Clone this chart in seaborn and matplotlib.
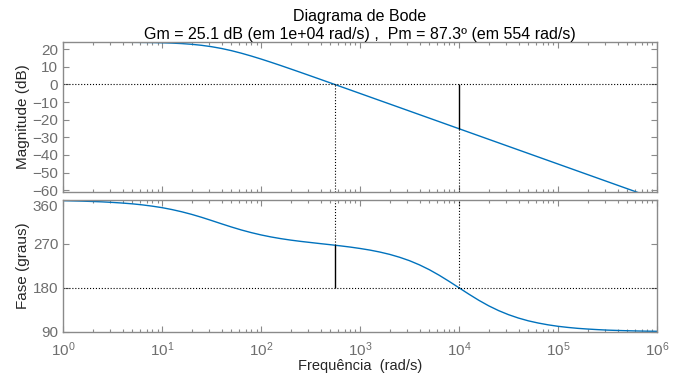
import pandas as pd
import seaborn as sns
import matplotlib.pyplot as plt
from matplotlib.ticker import LogLocator, NullFormatter

freq = [1, 1.259, 1.585, 1.995, 2.512, 3.162, 3.981, 5.012, 6.31, 7.943,
        10, 12.59, 15.85, 19.95, 25.12, 31.62, 39.81, 50.12, 63.1, 79.43,
        100, 125.9, 158.5, 199.5, 251.2, 316.2, 398.1, 501.2, 631, 794.3,
        1000, 1259, 1585, 1995, 2512, 3162, 3981, 5012, 6310, 7943,
        1e4, 12590, 15850, 19950, 25120, 31620, 39810, 50120, 63100, 79430,
        1e5, 125900, 158500, 199500, 251200, 316200, 398100, 501200, 631000, 794300, 1e6]
# Magnitude (dB)
mag_db = [23.9, 23.89, 23.89, 23.89, 23.88, 23.87, 23.85, 23.81, 23.76, 23.69,
          23.56, 23.38, 23.10, 22.70, 22.12, 21.34, 20.34, 19.11, 17.67, 16.07,
          14.35, 12.53, 10.65, 8.72, 6.77, 4.80, 2.82, 0.83, -1.16, -3.15,
          -5.15, -7.15, -9.15, -11.14, -13.14, -15.14, -17.14, -19.14, -21.14, -23.14,
          -25.14, -27.14, -29.14, -31.14, -33.14, -35.14, -37.14, -39.14, -41.14, -43.14,
          -45.14, -47.14, -49.14, -51.14, -53.14, -55.14, -57.14, -59.14, -61.14, -63.14, -65.14]
# Fase (graus)
fase = [358.4, 357.9, 357.4, 356.7, 355.9, 354.8, 353.5, 351.9, 349.8, 347.2,
        344.1, 340.2, 335.6, 330.3, 324.3, 317.8, 311.1, 304.6, 298.5, 293.1,
        288.3, 284.2, 280.7, 277.7, 275.1, 272.8, 270.5, 268.3, 266.0, 263.5,
        260.6, 257.3, 253.3, 248.5, 242.6, 235.6, 227.1, 217.2, 205.8, 193.3,
        180.2, 167.1, 154.6, 143.3, 133.5, 125.2, 118.3, 112.6, 108.1, 104.4,
        101.4, 99.1, 97.2, 95.8, 94.6, 93.6, 92.9, 92.3, 91.8, 91.4, 91.2]

# Margens
w_gm, gm = 1e4, 25.1
w_pm, pm = 554, 87.3
fase_pm = 180 + pm

mag_ticks = [20, 10, 0, -10, -20, -30, -40, -50, -60]
fase_ticks = [90, 180, 270, 360]

dados = pd.DataFrame({'freq': freq, 'mag': mag_db, 'fase': fase})

sns.set_style('ticks')
plt.rcParams['font.family'] = ['Liberation Sans', 'DejaVu Sans']
plt.rcParams['mathtext.fontset'] = 'custom'
plt.rcParams['mathtext.rm'] = 'Liberation Sans'
plt.rcParams['mathtext.it'] = 'Liberation Sans:italic'

cinza = '#6e6e6e'
moldura = '#8a8a8a'
azul = '#0072bd'

fig = plt.figure(figsize=(6.78, 3.75), dpi=100)
ax1 = fig.add_axes([0.093, 0.488, 0.876, 0.400])
ax2 = fig.add_axes([0.093, 0.115, 0.876, 0.352])

sns.lineplot(data=dados, x='freq', y='mag', ax=ax1, color=azul, lw=1.0)
sns.lineplot(data=dados, x='freq', y='fase', ax=ax2, color=azul, lw=1.0)

for ax in (ax1, ax2):
    ax.set_xscale('log')
    ax.set_xlim(1, 1e6)
    ax.xaxis.set_major_locator(LogLocator(base=10, numticks=10))
    ax.xaxis.set_minor_locator(LogLocator(base=10, subs=range(2, 10), numticks=100))
    ax.xaxis.set_minor_formatter(NullFormatter())
    ax.tick_params(which='both', direction='in', top=True, right=True,
                   colors=moldura, labelcolor=cinza, labelsize=11)
    ax.tick_params(which='major', length=4, width=0.8)
    ax.tick_params(which='minor', length=2.5, width=0.8)
    for s in ax.spines.values():
        s.set_color(moldura)
        s.set_linewidth(1.0)

# Magnitude
ax1.set_ylim(-61, 24)
ax1.set_yticks(mag_ticks)
ax1.xaxis.set_major_formatter(NullFormatter())
ax1.set_xlabel('')
ax1.set_ylabel('Magnitude (dB)', fontsize=11, color='#262626', labelpad=2)
ax1.hlines(0, 1, 1e6, color='black', ls=':', lw=0.8)
ax1.vlines(w_pm, -61, 0, color='black', ls=':', lw=0.8)
ax1.vlines(w_gm, -61, -gm, color='black', ls=':', lw=0.8)
ax1.vlines(w_gm, -gm, 0, color='black', lw=1.0)

# Fase
ax2.set_ylim(90, 360)
ax2.set_yticks(fase_ticks)
ax2.set_yticklabels([str(t) for t in fase_ticks])
ax2.get_yticklabels()[-1].set_va('top')
ax2.tick_params(axis='x', which='major', pad=6)
ax2.set_xlabel('Frequência  (rad/s)', fontsize=10.5, color='#262626', labelpad=0)
ax2.set_ylabel('Fase (graus)', fontsize=11, color='#262626', labelpad=2)
ax2.hlines(180, 1, 1e6, color='black', ls=':', lw=0.8)
ax2.vlines(w_pm, fase_pm, 360, color='black', ls=':', lw=0.8)
ax2.vlines(w_pm, 180, fase_pm, color='black', lw=1.0)
ax2.vlines(w_gm, 180, 360, color='black', ls=':', lw=0.8)

ax1.set_title('Diagrama de Bode\nGm = %.1f dB (em 1e+04 rad/s) ,  Pm = %.1fº (em %d rad/s)' % (gm, pm, w_pm),
              fontsize=11.5, color='black', pad=2, linespacing=1.25)

fig.savefig('out.png', dpi=100)
